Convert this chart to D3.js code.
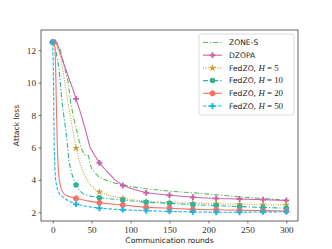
<!DOCTYPE html>
<html>
<head>
<meta charset="utf-8">
<script src="https://cdn.jsdelivr.net/npm/d3@7"></script>
<style>
  body { margin: 0; background: #fff; }
  svg { display: block; }
</style>
</head>
<body>
<div id="chart"></div>
<script>
// Series data: [round, loss]
const zoneS = [
  [0, 12.5], [5, 12.4], [10, 12.0], [16, 10.8], [20, 10.0], [23, 8.8], [27, 7.8],
  [30, 7.2], [34, 6.4], [38, 5.8], [41, 5.55], [46, 5.5], [48, 5.0], [50, 4.7],
  [55, 4.4], [60, 4.15], [70, 3.95], [80, 3.8], [90, 3.7], [105, 3.55], [120, 3.45],
  [150, 3.3], [180, 3.2], [210, 3.08], [240, 2.95], [270, 2.85], [300, 2.75]
];
const dzopa = [
  [0, 12.5], [3, 12.65], [6, 12.4], [10, 11.8], [14, 11.2], [17, 10.8], [22, 10.1],
  [26, 9.6], [30, 9.0], [36, 8.1], [42, 7.1], [48, 6.0], [54, 5.5], [60, 5.05],
  [70, 4.5], [80, 4.0], [90, 3.65], [105, 3.4], [120, 3.2], [150, 3.05], [180, 2.93],
  [210, 2.85], [240, 2.82], [270, 2.78], [300, 2.73]
];
const fedzoH5 = [
  [0, 12.5], [5, 12.3], [10, 11.6], [15, 10.2], [20, 8.6], [25, 7.3], [30, 5.95],
  [35, 5.0], [40, 4.4], [45, 3.95], [50, 3.6], [55, 3.4], [60, 3.25], [75, 3.0],
  [90, 2.85], [120, 2.67], [150, 2.6], [180, 2.56], [210, 2.52], [240, 2.5],
  [270, 2.47], [300, 2.45]
];
const fedzoH10 = [
  [0, 12.5], [4, 12.0], [8, 10.9], [12, 8.8], [15, 7.7], [18, 6.6], [21, 5.1],
  [25, 4.3], [30, 3.68], [35, 3.3], [40, 3.12], [50, 2.98], [60, 2.9], [90, 2.75],
  [120, 2.62], [150, 2.55], [180, 2.47], [210, 2.41], [240, 2.35], [270, 2.3],
  [300, 2.25]
];
const fedzoH20 = [
  [0, 12.5], [3, 12.2], [4, 10.5], [5, 8.0], [6, 6.0], [7, 4.8], [8.5, 4.0],
  [11, 3.4], [15, 3.1], [20, 2.98], [30, 2.86], [45, 2.7], [60, 2.58], [90, 2.45],
  [120, 2.3], [150, 2.25], [180, 2.18], [210, 2.15], [240, 2.12], [270, 2.1],
  [300, 2.08]
];
const fedzoH50 = [
  [0, 12.5], [1, 10.5], [1.5, 8.0], [2, 6.0], [3, 4.5], [4, 3.9], [6, 3.45],
  [9, 3.1], [13, 2.95], [20, 2.7], [30, 2.5], [45, 2.35], [60, 2.25], [90, 2.15],
  [120, 2.1], [150, 2.05], [180, 2.02], [210, 2.0], [240, 2.0], [270, 2.02],
  [300, 2.03]
];

const markerRounds = [0, 30, 60, 90, 120, 150, 180, 210, 240, 270, 300];
const xTicks = [0, 50, 100, 150, 200, 250, 300];
const yTicks = [2, 4, 6, 8, 10, 12];

const series = [
  { name: "ZONE-S", data: zoneS, color: "#5cb85c", dash: "5,2,1.2,2", marker: null },
  { name: "DZOPA", data: dzopa, color: "#c964a8", dash: null, marker: "plus" },
  { name: "FedZO, ", h: "5", data: fedzoH5, color: "#c9a13b", dash: "1,1.4", marker: "star" },
  { name: "FedZO, ", h: "10", data: fedzoH10, color: "#2db596", dash: "5,2,1.2,2", marker: "circle" },
  { name: "FedZO, ", h: "20", data: fedzoH20, color: "#f3736b", dash: null, marker: "oct" },
  { name: "FedZO, ", h: "50", data: fedzoH50, color: "#1ab7e6", dash: "3.5,1.5", marker: "plus" }
];

const W = 332, H = 249;
const mLeft = 41, mRight = 298, mTop = 30, mBottom = 221;

const svg = d3.select("#chart").append("svg")
  .attr("width", W)
  .attr("height", H);

const x = d3.scaleLinear().domain([-15, 315]).range([mLeft, mRight]);
const y = d3.scaleLinear().domain([1.46, 13.25]).range([mBottom, mTop]);

// axes
const xAxis = svg.append("g")
  .attr("transform", `translate(0,${mBottom})`)
  .call(d3.axisBottom(x).tickValues(xTicks).tickSize(2.5).tickPadding(2.5));
const yAxis = svg.append("g")
  .attr("transform", `translate(${mLeft},0)`)
  .call(d3.axisLeft(y).tickValues(yTicks).tickSize(2.5).tickPadding(2.5));

[xAxis, yAxis].forEach(g => {
  g.select(".domain").remove();
  g.selectAll("line").attr("stroke", "#222").attr("stroke-width", 0.6);
  g.selectAll("text")
    .attr("font-family", "'Liberation Serif', serif")
    .attr("font-size", 9.2)
    .attr("fill", "#333");
});

// frame
svg.append("rect")
  .attr("x", mLeft).attr("y", mTop)
  .attr("width", mRight - mLeft).attr("height", mBottom - mTop)
  .attr("fill", "none")
  .attr("stroke", "#222")
  .attr("stroke-width", 0.7);

// labels
svg.append("text")
  .attr("x", (mLeft + mRight) / 2)
  .attr("y", 243)
  .attr("text-anchor", "middle")
  .attr("font-family", "'DejaVu Sans', sans-serif")
  .attr("font-size", 7.6)
  .attr("fill", "#222")
  .text("Communication rounds");

svg.append("text")
  .attr("transform", `translate(19,${(mTop + mBottom) / 2}) rotate(-90)`)
  .attr("text-anchor", "middle")
  .attr("font-family", "'DejaVu Sans', sans-serif")
  .attr("font-size", 7.6)
  .attr("fill", "#222")
  .text("Attack loss");

// marker shapes
function octagon(r) {
  const pts = d3.range(8).map(i => {
    const a = Math.PI / 8 + i * Math.PI / 4;
    return [r * Math.cos(a), r * Math.sin(a)];
  });
  return "M" + pts.join("L") + "Z";
}
function markerPath(type) {
  if (type === "plus") return d3.symbol(d3.symbolCross, 19)();
  if (type === "star") return d3.symbol(d3.symbolStar, 18)();
  if (type === "circle") return d3.symbol(d3.symbolCircle, 24)();
  if (type === "oct") return octagon(3.1);
  return null;
}

const line = d3.line()
  .x(d => x(d[0]))
  .y(d => y(d[1]));

const plot = svg.append("g");

series.forEach(s => {
  plot.append("path")
    .attr("d", line(s.data))
    .attr("fill", "none")
    .attr("stroke", s.color)
    .attr("stroke-width", 1.1)
    .attr("stroke-dasharray", s.dash);

  if (s.marker) {
    const pts = s.data.filter(d => markerRounds.includes(d[0]));
    plot.selectAll(null)
      .data(pts)
      .enter().append("path")
      .attr("d", markerPath(s.marker))
      .attr("transform", d => `translate(${x(d[0])},${y(d[1])})`)
      .attr("fill", s.color);
  }
});

// legend
const lg = svg.append("g");
lg.append("rect")
  .attr("x", 199).attr("y", 34)
  .attr("width", 95).attr("height", 81)
  .attr("rx", 2)
  .attr("fill", "#fff")
  .attr("fill-opacity", 0.8)
  .attr("stroke", "#ccc")
  .attr("stroke-width", 0.7);

series.forEach((s, i) => {
  const cy = 42.5 + i * 12.7;
  lg.append("line")
    .attr("x1", 203).attr("x2", 222)
    .attr("y1", cy).attr("y2", cy)
    .attr("stroke", s.color)
    .attr("stroke-width", 1.1)
    .attr("stroke-dasharray", s.dash);
  if (s.marker) {
    lg.append("path")
      .attr("d", markerPath(s.marker))
      .attr("transform", `translate(212.5,${cy})`)
      .attr("fill", s.color);
  }
  const t = lg.append("text")
    .attr("x", 229)
    .attr("y", cy + 2.7)
    .attr("font-family", "'DejaVu Sans', sans-serif")
    .attr("font-size", 7.6)
    .attr("fill", "#222");
  t.append("tspan").text(s.name);
  if (s.h) {
    t.append("tspan")
      .attr("font-family", "'Liberation Serif', serif")
      .attr("font-style", "italic")
      .attr("font-size", 8.8)
      .text("H");
    t.append("tspan")
      .attr("font-family", "'Liberation Serif', serif")
      .attr("font-size", 8.8)
      .text(" = " + s.h);
  }
});
</script>
</body>
</html>
